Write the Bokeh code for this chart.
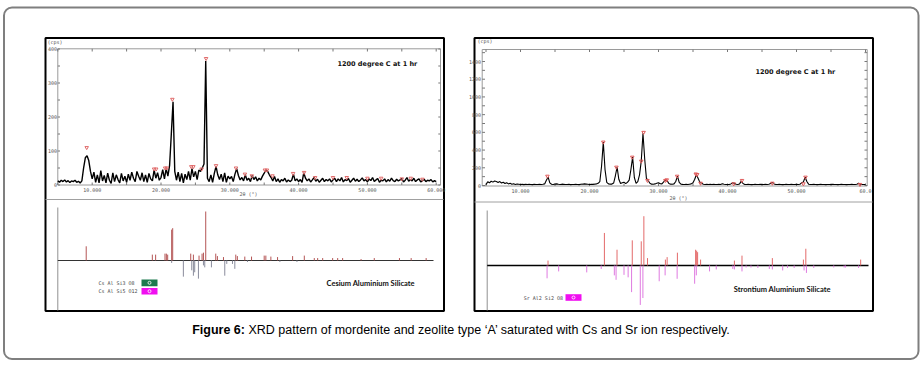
import numpy as np
from bokeh.plotting import figure
from bokeh.models import Range1d
from bokeh.embed import file_html
from bokeh.resources import INLINE
from bokeh.core.properties import value

# ---------------- data ----------------
scan_start = 5.0
scan_step = 0.25

# Cs-saturated mordenite, counts per 0.25 deg step from 5.0 to 60.0 deg 2theta
cs_counts = [
    12, 8, 14, 10, 15, 9, 13, 7, 12, 10, 14, 8, 11, 6, 12, 50, 80, 86, 72, 40,
    18, 38, 8, 30, 6, 42, 12, 28, 6, 35, 14, 5, 36, 10, 30, 16, 6, 34, 12, 26,
    8, 32, 14, 38, 20, 10, 40, 26, 14, 36, 10, 30, 8, 34, 18, 12, 44, 20, 36, 14,
    22, 45, 18, 48, 26, 58, 150, 245, 40, 14, 38, 10, 34, 6, 32, 16, 40, 14, 48, 24,
    40, 16, 44, 40, 50, 62, 365, 20, 10, 30, 8, 34, 55, 30, 16, 32, 10, 36, 8, 26,
    18, 25, 10, 32, 48, 28, 15, 22, 12, 30, 14, 20, 10, 28, 16, 24, 12, 20, 15, 26,
    35, 45, 40, 30, 22, 12, 25, 10, 18, 8, 16, 12, 20, 9, 15, 10, 14, 32, 12, 18,
    10, 16, 8, 36, 20, 12, 18, 9, 15, 22, 11, 17, 8, 14, 20, 10, 16, 12, 18, 9,
    15, 20, 10, 18, 12, 22, 9, 16, 13, 19, 8, 14, 20, 11, 17, 10, 15, 21, 12, 16,
    9, 18, 13, 22, 10, 15, 19, 8, 14, 12, 18, 9, 16, 11, 20, 13, 10, 17, 12, 15,
    19, 9, 14, 22, 11, 16, 12, 20, 10, 15, 18, 9, 13, 17, 10, 14, 12, 16, 9, 13,
    10]

# Sr-saturated zeolite A, counts per 0.25 deg step from 5.0 to 60.0 deg 2theta
sr_counts = [
    10, 42, 30, 48, 38, 50, 45, 35, 44, 28, 36, 22, 30, 18, 25, 15, 20, 12, 16, 14,
    12, 15, 10, 14, 11, 13, 12, 10, 14, 12, 11, 13, 12, 14, 18, 60, 94, 30, 14, 12,
    16, 18, 14, 12, 15, 13, 11, 12, 14, 10, 12, 11, 13, 12, 10, 14, 15, 18, 16, 14,
    12, 14, 13, 15, 18, 25, 45, 220, 490, 180, 35, 18, 15, 16, 28, 110, 207, 70, 22, 30,
    38, 22, 35, 60, 180, 320, 90, 25, 45, 120, 275, 590, 300, 80, 57, 25, 15, 14, 18, 25,
    32, 20, 18, 40, 64, 55, 22, 15, 14, 18, 45, 105, 35, 15, 13, 12, 14, 12, 15, 18,
    30, 70, 124, 80, 35, 26, 15, 12, 14, 11, 13, 12, 14, 12, 11, 13, 12, 20, 14, 12,
    11, 12, 18, 30, 26, 14, 12, 18, 49, 22, 12, 11, 13, 12, 10, 12, 14, 11, 12, 13,
    12, 11, 13, 12, 15, 22, 35, 18, 12, 11, 13, 12, 10, 12, 14, 11, 12, 13, 11, 12,
    13, 12, 14, 30, 40, 94, 45, 15, 12, 11, 13, 12, 10, 12, 13, 11, 12, 10, 12, 11,
    12, 13, 11, 12, 10, 12, 14, 11, 12, 10, 12, 11, 13, 12, 11, 14, 25, 14, 12, 11,
    12]

# peak-search marks
cs_peak_x = [9.2, 19.0, 19.3, 20.6, 20.85, 21.65, 24.4, 24.7, 25.9, 26.55, 28.0, 30.9,
             32.2, 33.2, 35.1, 35.4, 36.2, 39.2, 40.8, 42.4, 45.0, 47.0, 50.0, 52.0, 55.0, 56.3, 58.0]
cs_peak_y = [110, 47, 47, 50, 50, 252, 54, 54, 47, 372, 57, 50,
             32, 27, 44, 44, 27, 34, 37, 22, 22, 22, 20, 20, 18, 20, 17]
sr_peak_x = [13.9, 22.0, 23.9, 26.2, 27.5, 27.84, 28.4, 31.0, 31.2, 32.7, 35.4, 35.6,
             36.1, 40.9, 42.1, 46.5, 51.0, 51.3, 59.2]
sr_peak_y = [105, 490, 207, 320, 275, 600, 57, 57, 64, 105, 130, 124,
             26, 19, 57, 26, 19, 94, 12]

# reference patterns (relative intensity)
cs_ref_up_x = [9.13, 18.74, 19.22, 20.58, 20.78, 20.97, 21.55, 21.70, 24.32, 24.71, 25.53, 25.97, 26.17,
               26.50, 27.96, 28.2, 29.08, 30.87, 31.1, 32.18, 33.16, 35.0, 35.24, 35.97, 36.94, 39.13,
               40.83, 42.28, 42.77, 43.5, 44.95, 45.68, 46.4, 49.08, 51.0, 54.66, 56.36, 58.54]
cs_ref_up_i = [29, 12, 12, 14, 14, 12, 63, 66, 14, 12, 10, 14, 16,
               100, 14, 9, 7, 12, 9, 8, 8, 10, 10, 8, 7, 9,
               10, 5, 5, 5, 5, 5, 5, 3, 5, 5, 5, 5]
cs_ref_dn_x = [21.55, 23.25, 24.47, 24.71, 24.9, 25.44, 26.17, 26.36, 27.33, 29.27, 29.56, 30.39,
               30.73, 32.57, 37.28, 39.76]
cs_ref_dn_i = [5, 33, 20, 31, 24, 37, 10, 14, 14, 31, 7, 7, 17, 3, 3, 3]

sr_ref_up_x = [13.99, 22.16, 23.99, 26.2, 27.5, 27.88, 28.41, 31.0, 31.25, 32.74, 35.38, 35.53, 35.67,
               36.1, 41.0, 42.1, 46.5, 51.0, 51.35, 59.3]
sr_ref_up_i = [10, 66, 32, 51, 49, 100, 15, 12, 17, 26, 32, 30, 27, 12, 10, 20, 15, 12, 34, 12]
sr_ref_dn_x = [13.85, 15.53, 19.6, 21.7, 23.6, 23.85, 25.0, 25.6, 26.1, 27.36, 27.74, 30.1, 30.96, 32.7,
               35.24, 35.48, 37.4, 38.37, 40.77, 41.0, 42.1, 42.7, 43.4, 44.4, 46.06, 46.5, 48.0, 48.7,
               49.66, 51.1, 51.44, 52.5, 55.4, 56.9, 57.1, 59.0]
sr_ref_dn_i = [26, 12, 14, 7, 20, 29, 19, 24, 54, 80, 66, 32, 20, 27, 37, 20, 12, 8, 7, 8, 12, 4, 4, 5,
               7, 8, 10, 5, 5, 10, 15, 5, 4, 4, 4, 5]

cs_y_ticks = [0, 100, 200, 300, 400]
sr_y_ticks = [0, 200, 400, 600, 800, 1000, 1200, 1400]
x_ticks = [10, 20, 30, 40, 50, 60]
cs_x_labels = ["10.000", "20.000", "30.000", "40.000", "50.000", "60.000"]
sr_x_labels = ["10.000", "20.000", "30.000", "40.000", "50.000", "60.0"]

cs_legend = ["Cs  Al  Si3  O8", "Cs  Al  Si5  O12"]
sr_legend = ["Sr  Al2  Si2  O8"]
cs_title = "Cesium Aluminium Silicate"
sr_title = "Strontium Aluminium Silicate"
cond_text = "1200 degree C at 1 hr"
caption_bold = "Figure 6:"
caption_rest = "XRD pattern of mordenite and zeolite type \u2018A\u2019 saturated with Cs and Sr ion respectively."

# ---------------- layout ----------------
W, H = 920, 362
XL, XR = 0, W
YB, YT = H, 0


def span_range(v0, p0, v1, p1, lo, hi):
    s = (v1 - v0) / (p1 - p0)
    return Range1d(start=v0 + (lo - p0) * s, end=v0 + (hi - p0) * s)


p = figure(width=W, height=H, x_range=Range1d(XL, XR), y_range=Range1d(YB, YT),
           x_axis_type=None, y_axis_type=None, output_backend="svg", toolbar_location=None,
           min_border=0, min_border_left=0, min_border_right=0, min_border_top=0, min_border_bottom=0,
           outline_line_color=None, background_fill_color="white", border_fill_color="white")

p.extra_x_ranges = {
    "cs_x": span_range(10, 91.7, 60, 435.7, XL, XR),
    "sr_x": span_range(10, 520, 60, 865, XL, XR),
}
p.extra_y_ranges = {
    "cs_top": span_range(0, 184.5, 400, 48.5, YB, YT),
    "cs_bot": span_range(0, 260, 100, 211, YB, YT),
    "sr_top": span_range(0, 185, 1400, 61, YB, YT),
    "sr_bot": span_range(0, 265, 100, 215.7, YB, YT),
}

cs_x = scan_start + scan_step * np.arange(len(cs_counts))
sr_x = scan_start + scan_step * np.arange(len(sr_counts))

# outer rounded frame
p.quad(left=[3.5], right=[918], top=[7], bottom=[358.5], fill_color=None,
       line_color="#7f7f7f", line_width=2, border_radius=8)
# panels
p.quad(left=[45, 474], right=[443.5, 872.5], top=[37.5, 37.5], bottom=[310.5, 310.5],
       fill_color="white", line_color="black", line_width=2)
# plot frames
p.quad(left=[57.3, 481.7], right=[440, 866.7], top=[48.3, 49], bottom=[184.5, 185.5],
       fill_color=None, line_color="#9a9a9a", line_width=1)
# separators
p.segment(x0=[45, 474], x1=[443, 872], y0=[199, 201.5], y1=[199, 201.5], line_color="#a0a0a0", line_width=1)
# lower vertical axes
p.segment(x0=[57.3, 486.7], x1=[57.3, 486.7], y0=[207, 210], y1=[310, 310], line_color="#909090", line_width=1)
# lower baselines
p.segment(x0=[57.3], x1=[433], y0=[260], y1=[260], line_color="#333333", line_width=1)
p.segment(x0=[486.7], x1=[868], y0=[265], y1=[265], line_color="black", line_width=1.6)

tick_font = value("DejaVu Sans Mono")
# ---- Cs panel ticks
cs_minor_y = list(range(0, 401, 50))
p.segment(x0=57.3, x1=59.5, y0=cs_minor_y, y1=cs_minor_y, y_range_name="cs_top", line_color="#777777")
p.segment(x0=437.8, x1=440, y0=cs_minor_y, y1=cs_minor_y, y_range_name="cs_top", line_color="#777777")
minor_x = list(range(5, 61, 5))
p.segment(x0=minor_x, x1=minor_x, y0=48.3, y1=51, x_range_name="cs_x", line_color="#777777")
p.segment(x0=minor_x, x1=minor_x, y0=184.5, y1=182, x_range_name="cs_x", line_color="#777777")
p.text(x=56.5, y=cs_y_ticks, text=[str(v) for v in cs_y_ticks], y_range_name="cs_top",
       text_align="right", text_baseline="middle", text_font=tick_font, text_font_size="5px", text_color="#555555")
p.text(x=x_ticks, y=189, text=cs_x_labels, x_range_name="cs_x", text_align="center", text_baseline="middle",
       text_font=tick_font, text_font_size="5px", text_color="#555555")
p.text(x=[47], y=[41], text=["(cps)"], text_baseline="middle", text_font=tick_font, text_font_size="5px",
       text_color="#555555")
p.text(x=[248], y=[193.5], text=["2\u03b8 (\u00b0)"], text_align="center", text_baseline="middle",
       text_font=tick_font, text_font_size="5px", text_color="#555555")

# ---- Sr panel ticks
sr_minor_y = list(range(0, 1501, 100))
p.segment(x0=481.7, x1=484.5, y0=sr_minor_y, y1=sr_minor_y, y_range_name="sr_top", line_color="#777777")
p.segment(x0=864, x1=866.7, y0=sr_minor_y, y1=sr_minor_y, y_range_name="sr_top", line_color="#777777")
p.segment(x0=minor_x, x1=minor_x, y0=49, y1=51.5, x_range_name="sr_x", line_color="#777777")
p.segment(x0=minor_x, x1=minor_x, y0=185.5, y1=183, x_range_name="sr_x", line_color="#777777")
p.text(x=480.5, y=sr_y_ticks, text=[str(v) for v in sr_y_ticks], y_range_name="sr_top",
       text_align="right", text_baseline="middle", text_font=tick_font, text_font_size="5px", text_color="#555555")
p.text(x=x_ticks, y=190, text=sr_x_labels, x_range_name="sr_x", text_align="center", text_baseline="middle",
       text_font=tick_font, text_font_size="5px", text_color="#555555")
p.text(x=[477], y=[40.5], text=["(cps)"], text_baseline="middle", text_font=tick_font, text_font_size="5px",
       text_color="#555555")
p.text(x=[678], y=[197], text=["2\u03b8 (\u00b0)"], text_align="center", text_baseline="middle",
       text_font=tick_font, text_font_size="5px", text_color="#555555")

# ---- traces
p.line(x=cs_x, y=cs_counts, x_range_name="cs_x", y_range_name="cs_top", line_color="black", line_width=1.4)
p.line(x=sr_x, y=sr_counts, x_range_name="sr_x", y_range_name="sr_top", line_color="black", line_width=1.1)
p.scatter(x=cs_peak_x, y=cs_peak_y, x_range_name="cs_x", y_range_name="cs_top", marker="inverted_triangle",
          size=3.5, fill_color=None, line_color="#e06a6a", line_width=1)
p.scatter(x=sr_peak_x, y=sr_peak_y, x_range_name="sr_x", y_range_name="sr_top", marker="inverted_triangle",
          size=3.5, fill_color=None, line_color="#e05a5a", line_width=1)

# ---- reference sticks
p.segment(x0=cs_ref_up_x, x1=cs_ref_up_x, y0=0, y1=cs_ref_up_i, x_range_name="cs_x", y_range_name="cs_bot",
          line_color="#b45555", line_width=1)
p.segment(x0=cs_ref_dn_x, x1=cs_ref_dn_x, y0=0, y1=[-v for v in cs_ref_dn_i], x_range_name="cs_x",
          y_range_name="cs_bot", line_color="#8a8c9c", line_width=1)
p.segment(x0=sr_ref_up_x, x1=sr_ref_up_x, y0=0, y1=sr_ref_up_i, x_range_name="sr_x", y_range_name="sr_bot",
          line_color="#e36a6a", line_width=1)
p.segment(x0=sr_ref_dn_x, x1=sr_ref_dn_x, y0=0, y1=[-v for v in sr_ref_dn_i], x_range_name="sr_x",
          y_range_name="sr_bot", line_color="#df7ae0", line_width=1)

# ---- legends of reference cards
p.text(x=[98, 98], y=[282.3, 290.7], text=cs_legend, text_baseline="middle", text_font=tick_font,
       text_font_size="5px", text_color="#444444")
p.quad(left=[141, 141], right=[157, 157], top=[279, 287.5], bottom=[285.7, 294],
       fill_color=["#1d7a4f", "#f00ff0"], line_color=None)
p.scatter(x=[149, 149], y=[282.3, 290.7], marker="circle", size=3, fill_color=None, line_color="white",
          line_width=0.8)
p.text(x=[523.3], y=[297.3], text=sr_legend, text_baseline="middle", text_font=tick_font,
       text_font_size="5px", text_color="#444444")
p.quad(left=[565], right=[581], top=[293.7], bottom=[300.3], fill_color="#f00ff0", line_color=None)
p.scatter(x=[573], y=[297], marker="circle", size=3, fill_color=None, line_color="white", line_width=0.8)

title_font = value("Lato")
p.text(x=[326], y=[283.3], text=[cs_title], text_baseline="middle", text_font=title_font,
       text_font_style="bold", text_font_size="7.5px", text_color="#111111")
p.text(x=[733.3], y=[289.3], text=[sr_title], text_baseline="middle", text_font=title_font,
       text_font_style="bold", text_font_size="7.5px", text_color="#111111")

cond_font = value("DejaVu Sans")
p.text(x=[337, 755], y=[63.3, 71.7], text=[cond_text, cond_text], text_baseline="middle", text_font=cond_font,
       text_font_style="bold", text_font_size="6.5px", text_color="#111111")

# ---- caption
cap_font = value("Liberation Sans")
p.text(x=[191.7], y=[329.5], text=[caption_bold], text_baseline="alphabetic", text_font=cap_font,
       text_font_style="bold", text_font_size="12.5px", text_color="black")
p.text(x=[248], y=[329.5], text=[caption_rest], text_baseline="alphabetic", text_font=cap_font,
       text_font_size="12.5px", text_color="black")

open("out.html", "w").write(file_html(p, INLINE))
